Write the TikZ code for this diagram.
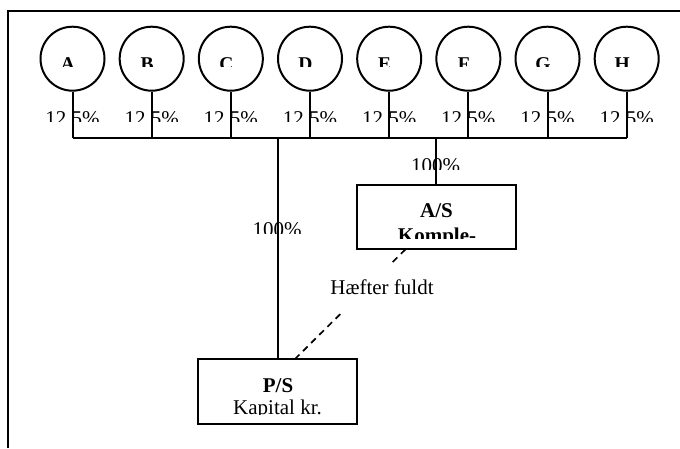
\documentclass[tikz,border=0pt]{standalone}
\usepackage{fontspec}
\setmainfont{Liberation Serif}
\begin{document}
\begin{tikzpicture}[x=1pt,y=-1pt,
  ln/.style={line width=2pt},
  pers/.style={circle,draw,line width=2pt,minimum size=64pt,inner sep=0pt},
  firm/.style={rectangle,draw,line width=2pt,minimum width=159pt,minimum height=64.5pt,inner sep=0pt},
  txt/.style={font=\fontsize{21}{24}\selectfont,inner sep=0pt,anchor=base},
  btxt/.style={font=\fontsize{21}{24}\selectfont\bfseries,inner sep=0pt,anchor=base},
  ltr/.style={font=\fontsize{19.5}{22}\selectfont\bfseries,inner sep=0pt,anchor=base},
  dsh/.style={line width=1.7pt,dash pattern=on 6.5pt off 5pt}]
\useasboundingbox (0,0) rectangle (680,448);
% frame
\coordinate (fTL) at (8.3,11);
\coordinate (fTR) at (680,11);
\coordinate (fBL) at (8.3,448);
\draw[line width=2pt] (fBL) -- (fTL) -- (fTR);
% bus
\coordinate (busL) at (72.5,137.7);
% owners
\foreach \l [count=\i] in {A,B,C,D,E,F,G,H} {
  \pgfmathsetmacro\cx{72.5+(\i-1)*79.17}
  \node[pers] (p\i) at (\cx,58.7) {};
  \begin{scope}
    \clip (\cx-30,40) rectangle (\cx+30,66);
    \node[ltr] (l\i) at (\cx-4.5,70.3) {\l};
  \end{scope}
  \begin{scope}
    \clip (\cx-38,100) rectangle (\cx+38,121.5);
    \node[txt] (s\i) at (\cx,125.6) {12,5\%};
  \end{scope}
  \draw[ln] (p\i.south) -- (p\i.south |- busL);
}
\draw[ln] (p1.south |- busL) -- (p8.south |- busL);
% companies
\node[firm] (as) at (436.4,217.2) {};
\node[firm] (ps) at (277.8,391.5) {};
\node[btxt] (asT) at (436.5,217.2) {A/S};
\begin{scope}
  \clip (360,220) rectangle (512,238.3);
  \node[btxt] (asK) at (437,242.2) {Komple-};
\end{scope}
\node[btxt] (psT) at (278,392.2) {P/S};
\begin{scope}
  \clip (202,395) rectangle (354,414.3);
  \node[txt] (psK) at (277.5,414.6) {Kapital kr.};
\end{scope}
% connections
\draw[ln] (ps.north) -- (ps.north |- busL);
\draw[ln] (as.north) -- (as.north |- busL);
\begin{scope}
  \clip (380,145) rectangle (495,169);
  \node[txt] (pc1) at (435.5,172.2) {100\%};
\end{scope}
\begin{scope}
  \clip (220,210) rectangle (335,233.3);
  \node[txt] (pc2) at (277,236.9) {100\%};
\end{scope}
% liability
\coordinate (d1) at (405.5,249.3);
\coordinate (d2) at (295,359);
\draw[dsh] (d1) -- (d2);
\node[fill=white,minimum width=115pt,minimum height=50pt,inner sep=0pt,font=\fontsize{21}{24}\selectfont] (hf) at (382,287.5) {Hæfter fuldt};
\end{tikzpicture}
\end{document}
